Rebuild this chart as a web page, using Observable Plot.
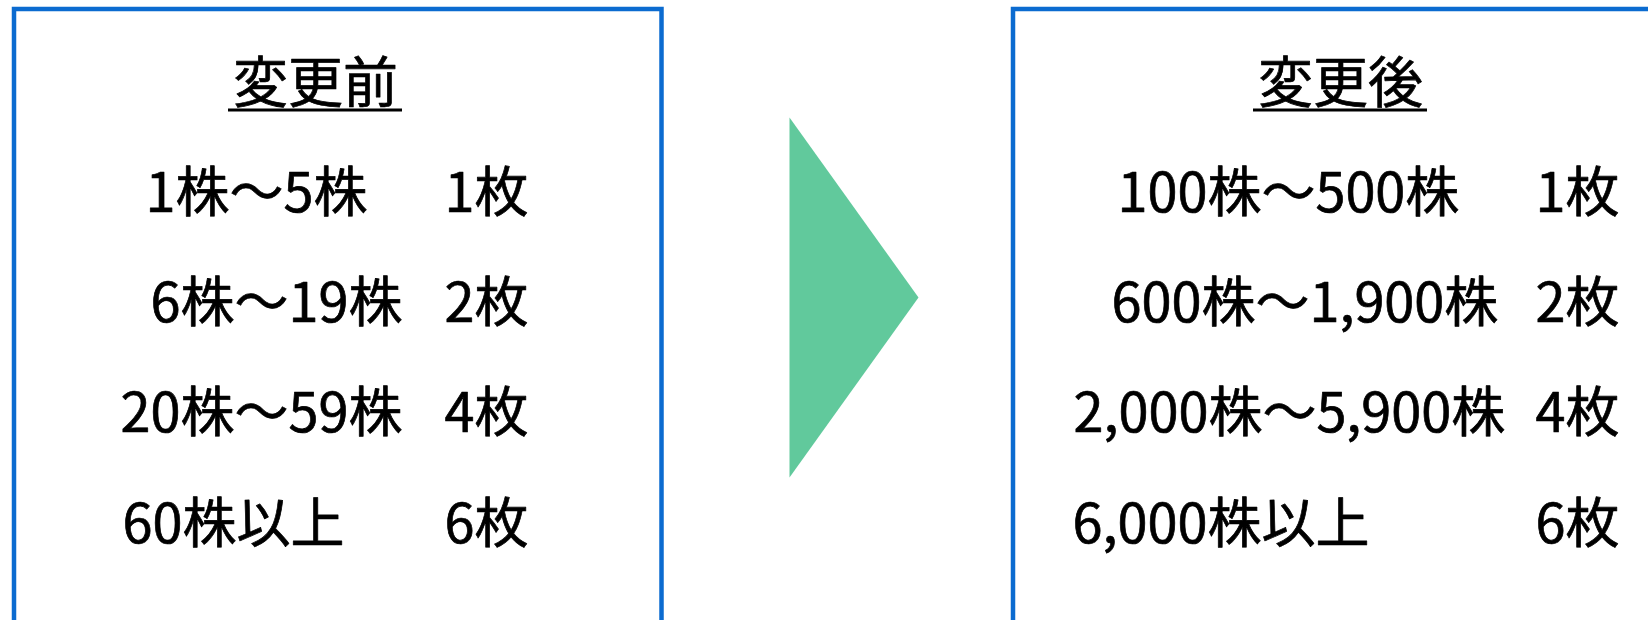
<!DOCTYPE html>
<html>
<head>
<meta charset="utf-8">
<script src="https://cdn.jsdelivr.net/npm/d3@7"></script>
<script src="https://cdn.jsdelivr.net/npm/@observablehq/plot@0.6"></script>
<style>
  html, body { margin: 0; padding: 0; background: #ffffff; }
  #chart svg { display: block; }
</style>
</head>
<body>
<div id="chart"></div>
<script>
// ---- content ----
const titles = ["変更前", "変更後"];
const beforeRanges = ["1株～5株", "6株～19株", "20株～59株", "60株以上"];
const afterRanges = ["100株～500株", "600株～1,900株", "2,000株～5,900株", "6,000株以上"];
const tickets = ["1枚", "2枚", "4枚", "6枚"];

// ---- layout (pixel space of the 1648x620 picture) ----
const W = 1648, H = 620;
const boxLeft = [14, 1013];
const boxRight = [661.5, 1720];
const boxTop = 9;
const titleCenter = [315, 1340];
const titleBaseline = 101;
const underlineY = 109.5;
const underlineHalf = 87;
const labelLeft = [[145, 150, 120, 122], [1117, 1111, 1073, 1072]];
const countRight = [528, 1619];
const firstBaseline = 211;
const rowStep = 110.4;
const arrowLeft = 789, arrowTip = 918, arrowTop = 117, arrowBottom = 477;

const blue = "#0b6bd0";
const green = "#61c99c";
const font = "'Noto Sans CJK JP', 'Noto Sans', sans-serif";

// ---- build tables ----
const panels = titles.map((t, p) => ({
  title: t, x1: boxLeft[p], x2: boxRight[p], y1: boxTop, y2: H + 40,
  tx: titleCenter[p]
}));
const rows = [];
[beforeRanges, afterRanges].forEach((ranges, p) => {
  ranges.forEach((r, i) => {
    rows.push({panel: p, label: r, count: tickets[i],
      lx: labelLeft[p][i], cx: countRight[p], y: firstBaseline + i * rowStep});
  });
});
const arrow = [
  {x: arrowLeft, y: arrowTop},
  {x: arrowTip, y: (arrowTop + arrowBottom) / 2},
  {x: arrowLeft, y: arrowBottom},
  {x: arrowLeft, y: arrowTop}
];

const textStyle = {fill: "#000", stroke: "#000", strokeWidth: 0.7, fontFamily: font, lineAnchor: "bottom"};

const chart = Plot.plot({
  width: W,
  height: H,
  margin: 0,
  x: {domain: [0, W], range: [0, W], axis: null},
  y: {domain: [0, H], range: [0, H], axis: null},
  style: {background: "#ffffff", fontFamily: font},
  marks: [
    Plot.rect(panels, {x1: "x1", x2: "x2", y1: "y1", y2: "y2",
      fill: "none", stroke: blue, strokeWidth: 4.5}),
    Plot.line(arrow, {x: "x", y: "y", fill: green, stroke: "none"}),
    Plot.text(panels, {x: "tx", y: titleBaseline, text: "title",
      fontSize: 55, textAnchor: "middle", ...textStyle}),
    Plot.ruleY(panels, {y: underlineY, x1: d => d.tx - underlineHalf, x2: d => d.tx + underlineHalf,
      stroke: "#000", strokeWidth: 3}),
    Plot.text(rows, {x: "lx", y: "y", text: "label", fontSize: 54,
      textAnchor: "start", ...textStyle}),
    Plot.text(rows, {x: "cx", y: "y", text: "count", fontSize: 54,
      textAnchor: "end", ...textStyle})
  ]
});
document.getElementById("chart").appendChild(chart);
</script>
</body>
</html>
